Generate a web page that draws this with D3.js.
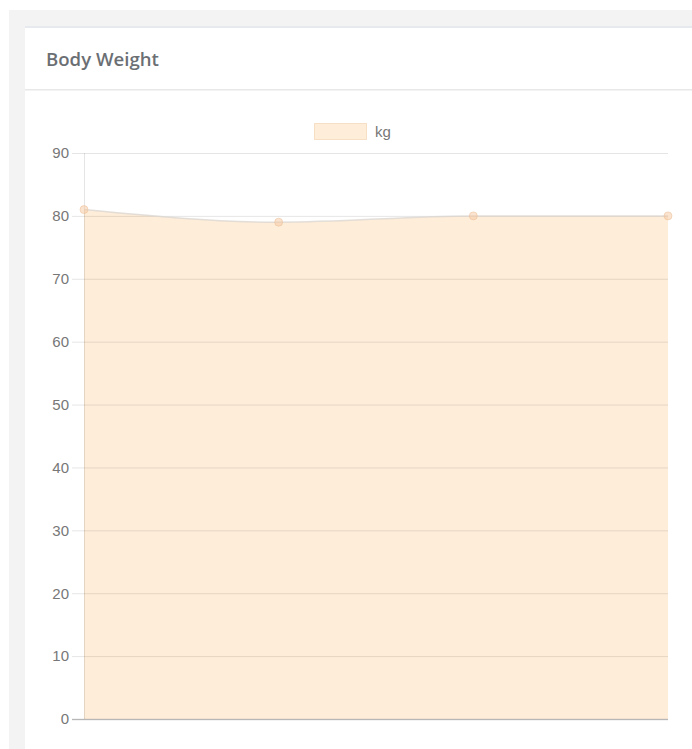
<!DOCTYPE html>
<html>
<head>
<meta charset="utf-8">
<script src="https://cdn.jsdelivr.net/npm/d3@7"></script>
<style>
  html, body { margin: 0; padding: 0; background: #fff; }
  svg { display: block; }
</style>
</head>
<body>
<svg id="chart" width="692" height="749"></svg>
<script>
// Body weight readings (kg), one per entry
const categories = ["1", "2", "3", "4"];
const weights = [81, 79, 80, 80];
const yTicks = [0, 10, 20, 30, 40, 50, 60, 70, 80, 90];
const seriesName = "kg";
const title = "Body Weight";

const svg = d3.select("#chart");

// page panel and card
svg.append("rect").attr("x", 9).attr("y", 10).attr("width", 683).attr("height", 739).attr("fill", "#f3f3f3");
svg.append("rect").attr("x", 25).attr("y", 26).attr("width", 667).attr("height", 723).attr("fill", "#fff");
svg.append("rect").attr("x", 25).attr("y", 26).attr("width", 667).attr("height", 2).attr("fill", "#e6e9ed");
svg.append("rect").attr("x", 25).attr("y", 89).attr("width", 667).attr("height", 1.5).attr("fill", "#e8e8e8");

svg.append("text")
  .attr("x", 46).attr("y", 65.5)
  .attr("font-family", "'Open Sans', sans-serif")
  .attr("font-weight", 600)
  .attr("font-size", 18.6)
  .attr("fill", "#6b6f74")
  .text(title);

// scales
const x = d3.scalePoint().domain(categories).range([84, 668]);
const y = d3.scaleLinear().domain([0, 90]).range([719, 153]);

const fillColor = "rgba(250,190,120,0.28)";

// legend
const legend = svg.append("g");
legend.append("rect")
  .attr("x", 314.5).attr("y", 123.5).attr("width", 52).attr("height", 16)
  .attr("fill", fillColor).attr("stroke", "rgba(240,200,160,0.5)");
legend.append("text")
  .attr("x", 375).attr("y", 136.5)
  .attr("font-family", "'Liberation Sans', Arial, sans-serif")
  .attr("font-size", 15).attr("fill", "#777")
  .text(seriesName);

// area + line
const curve = d3.curveMonotoneX;
const area = d3.area()
  .x((d, i) => x(categories[i]))
  .y0(y(0))
  .y1(d => y(d))
  .curve(curve);
const line = d3.line()
  .x((d, i) => x(categories[i]))
  .y(d => y(d))
  .curve(curve);

svg.append("path").datum(weights).attr("d", area).attr("fill", fillColor);

// y grid and ticks
const yAxis = d3.axisLeft(y).tickValues(yTicks).tickSize(-(668 - 72)).tickPadding(3);
const gy = svg.append("g").attr("transform", "translate(72,0)").call(yAxis);
gy.select(".domain").remove();
gy.selectAll(".tick line").attr("stroke", "rgba(0,0,0,0.1)").attr("stroke-width", 1);
gy.selectAll(".tick text")
  .attr("font-family", "'Liberation Sans', Arial, sans-serif")
  .attr("font-size", 15).attr("fill", "#777").attr("x", -3);

// y axis line and x axis baseline
svg.append("line").attr("x1", 84.5).attr("x2", 84.5).attr("y1", y(90)).attr("y2", y(0))
  .attr("stroke", "rgba(0,0,0,0.1)");
svg.append("line").attr("x1", 72).attr("x2", 668).attr("y1", y(0) + 0.5).attr("y2", y(0) + 0.5)
  .attr("stroke", "rgba(0,0,0,0.2)").attr("stroke-width", 1.5);

svg.append("path").datum(weights).attr("d", line)
  .attr("fill", "none").attr("stroke", "rgba(220,215,210,0.8)").attr("stroke-width", 1.5);

svg.append("g").selectAll("circle").data(weights).join("circle")
  .attr("cx", (d, i) => x(categories[i]))
  .attr("cy", d => y(d))
  .attr("r", 4)
  .attr("fill", "rgba(245,200,160,0.5)")
  .attr("stroke", "rgba(235,190,150,0.5)")
  .attr("stroke-width", 1);
</script>
</body>
</html>
